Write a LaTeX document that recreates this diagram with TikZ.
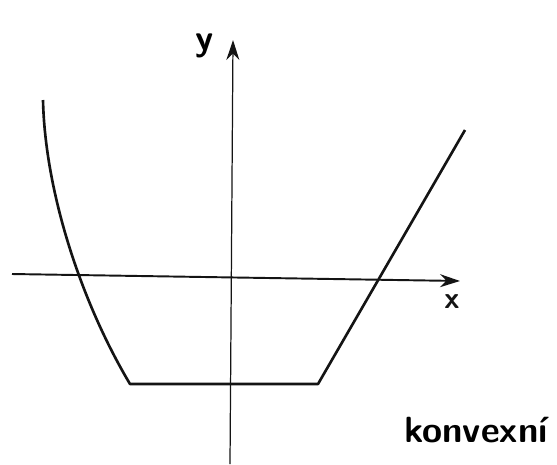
\documentclass[tikz,border=0pt]{standalone}
\usepackage{tikz}
\usetikzlibrary{arrows.meta,positioning}
\definecolor{ink}{HTML}{141414}

\begin{document}
\begin{tikzpicture}[
    x=0.02cm, y=-0.02cm,
    axis/.style={draw=ink, line width=1.1pt, -{Stealth[length=4mm,width=2.6mm]}},
    curve/.style={draw=ink, line width=1.5pt, line join=round},
    lab/.style={font=\sffamily\bfseries\LARGE\color{ink}}
]
\useasboundingbox (0,0) rectangle (557,464);
% axes
\coordinate (xs) at (12,274);
\coordinate (xe) at (460,281);
\coordinate (ys) at (230,464);
\coordinate (ye) at (233,40);
\draw[axis] (xs) -- (xe);
\draw[axis, line width=0.7pt] (ys) -- (ye);
\node[lab, font=\sffamily\bfseries\huge] (ylab) at (205,46) {y};
\node[lab] (xlab) at (452,302) {x};
% convex function
\draw[curve] (43,100) .. controls (45,190) and (80,300) .. (130,384)
    -- (318,384) -- (465,130);
\node[lab, font=\sffamily\bfseries\huge] (kind) at (476,430) {konvexní};
\end{tikzpicture}
\end{document}
